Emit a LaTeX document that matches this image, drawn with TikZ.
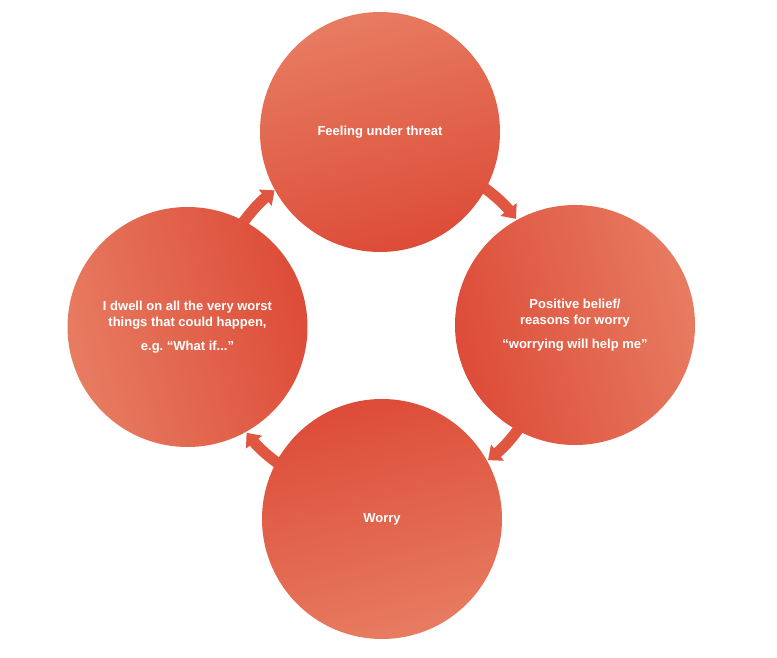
\documentclass[tikz,border=0pt]{standalone}
\usepackage{fontspec}
\setmainfont{Liberation Sans}
\usetikzlibrary{arrows.meta,calc}
\definecolor{lightred}{RGB}{231,124,97}
\definecolor{darkred}{RGB}{221,76,56}
\definecolor{arrred}{RGB}{224,86,64}
\begin{document}
\begin{tikzpicture}[x=1pt,y=1pt,
  bubble/.style={circle, minimum size=240pt, inner sep=0pt, text=white,
    font=\bfseries\fontsize{13}{16}\selectfont, align=center,
    top color=lightred, bottom color=darkred},
  flow/.style={draw=arrred, line width=11pt, -{Triangle[length=12pt,width=20pt]}}]
\useasboundingbox[fill=white] (0,0) rectangle (777,657);
\coordinate (hub) at (381,331.5);
% connectors (behind the circles)
\draw[flow] ($(hub)+(60:172)$) arc[start angle=60, end angle=38.3, radius=172];
\draw[flow] ($(hub)+(-30:172)$) arc[start angle=-30, end angle=-51.5, radius=172];
\draw[flow] ($(hub)+(-120:172)$) arc[start angle=-120, end angle=-141.4, radius=172];
\draw[flow] ($(hub)+(150:172)$) arc[start angle=150, end angle=128.2, radius=172];
% circles
\node[bubble, shading angle=15] (threat) at (380,525) {Feeling under threat};
\node[bubble, shading angle=285] (belief) at (575,332) {Positive belief/\\reasons for worry\\[8pt]“worrying will help me”};
\node[bubble, shading angle=195] (worry) at (382,138) {Worry};
\node[bubble, shading angle=105] (dwell) at (187.5,330) {I dwell on all the very worst\\things that could happen,\\[8pt]e.g.\ “What if...”};
\end{tikzpicture}
\end{document}
